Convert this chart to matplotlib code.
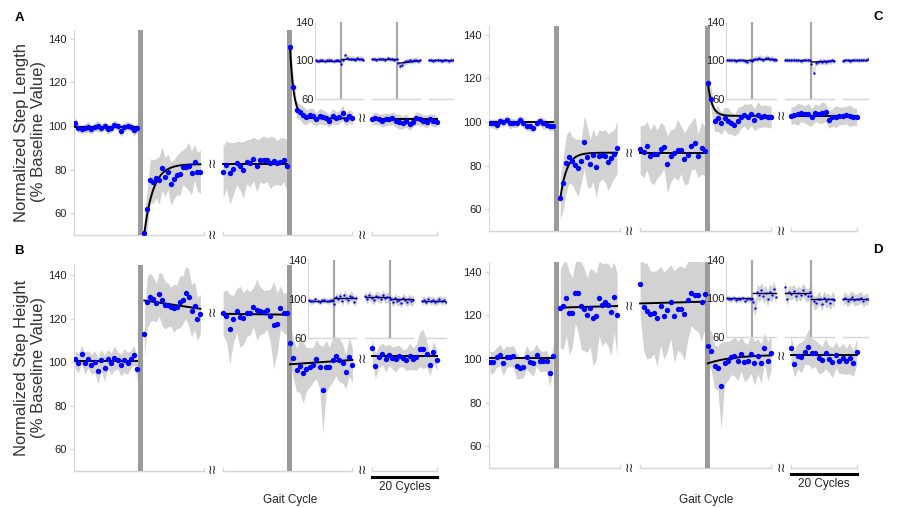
import matplotlib
matplotlib.use('Agg')
import matplotlib.pyplot as plt
import matplotlib.transforms as mtransforms
import numpy as np

plt.rcParams['font.family'] = ['Liberation Sans', 'DejaVu Sans']

W, H = 900, 508

# layout of the five walking blocks along the x axis (in gait cycles)
seg_x = [(0.3, 19.8), (22.0, 39.5), (46.6, 66.6), (67.5, 87.0), (93.1, 113.4)]
bars_x = [(20.0, 21.7), (66.7, 68.1)]
breaks_x = [43.4, 90.1]
axis_runs = [(0, 40.5), (46.6, 87.0), (93.1, 113.4)]

# inset layout
inset_x = [(0.3, 10.4), (10.9, 20.0), (23.5, 33.7), (34.3, 43.5), (47.0, 57.0)]
inset_vlines = [10.6, 34.0]
inset_runs = [(0, 20), (23.5, 43.5), (47, 57)]

# ---------------- A : step length ----------------
a_base = [101.5, 99, 98.5, 99, 99.5, 98.5, 99.5, 100, 99, 100, 98.5, 99, 100.5, 100, 97.5, 99.5, 100, 99.5, 98, 99]
a_adapt_early = [51, 62, 75, 74.5, 76, 75, 80.5, 76.5, 79, 73.5, 75.5, 77.5, 78, 81, 81, 81.5, 78.5, 83.5, 79, 79]
a_adapt_late = [79.0, 82.1, 78.3, 80.3, 82.9, 81.8, 79.8, 83.6, 82.9, 84.9, 81.8, 84.3, 84.6, 84.5, 83.2, 84.0, 83.2, 83.6, 84.5, 81.8]
a_post_early = [136, 118, 107.5, 106.5, 105, 104, 105, 104.5, 103, 104.5, 104, 103.5, 102.5, 104.5, 103.5, 104, 106, 103, 104.5, 103.5]
a_post_late = [103, 103.5, 103, 102.5, 103, 103, 103.5, 102.5, 102, 101.5, 102.5, 101, 102, 103.5, 103, 102.5, 102, 103, 102.5, 102]

a_base_sd = [2.5, 2, 2, 2, 2.5, 2, 2, 2.5, 2, 2, 2.5, 2, 2, 2, 2.5, 2, 2, 2, 2.5, 2]
a_adapt_early_sd = [9, 9, 10, 10, 9, 11, 10, 9, 8, 10, 9, 9, 10, 8, 9, 11, 10, 8, 9, 10]
a_adapt_late_sd = [12, 11, 14, 12, 10, 11, 13, 10, 11, 10, 12, 10, 11, 10, 12, 11, 10, 11, 10, 12]
a_post_early_sd = [4, 4, 4, 3.5, 4, 3.5, 3, 3.5, 3, 3.5, 3.5, 3, 3, 3.5, 3, 3, 3.5, 3, 3, 3]
a_post_late_sd = [2.5, 3, 2.5, 3, 3, 2.5, 3, 3, 3.5, 3, 3, 3, 2.5, 3, 3, 2.5, 3, 2.5, 3, 2.5]

a_fits = [('flat', 99.5), ('exp', 51, 82.5, 2.8), ('flat', 82.5), ('exp', 136, 103.5, 1.2), ('flat', 103)]
a_break_levels = [82.5, 103.5]

# ---------------- B : step height ----------------
b_base = [101.3, 99.4, 103.6, 99.4, 101.3, 98.9, 100.1, 96.0, 100.8, 97.2, 101.3, 99.4, 101.7, 100.8, 98.7, 100.8, 99.4, 101.3, 103.3, 96.8]
b_adapt_early = [112.8, 127.7, 129.7, 129.2, 127.3, 131.1, 128.7, 126.2, 126.2, 125.4, 124.7, 125.4, 127.7, 128.6, 131.9, 129.9, 123.6, 126.0, 119.8, 122.1]
b_adapt_late = [122.4, 121.2, 115.1, 119.6, 123.6, 120.8, 120.1, 122.7, 122.4, 125.2, 124.1, 123.6, 123.1, 124.1, 121.4, 117.0, 117.7, 125.0, 122.4, 122.4]
b_post_early = [108.6, 101.7, 96.4, 98.2, 95.1, 96.7, 97.6, 98.7, 101.4, 97.9, 87.2, 97.9, 97.9, 101.0, 102.8, 101.0, 99.4, 95.6, 102.5, 98.7]
b_post_late = [106.3, 98.2, 102.5, 103.8, 101.5, 103.3, 101.9, 101.5, 102.7, 101.9, 101.0, 102.7, 101.5, 102.3, 105.9, 105.9, 103.8, 98.7, 104.5, 101.0]

b_base_sd = [4, 4.5, 4, 5, 4, 4.5, 5, 6, 5, 6, 4.5, 5, 5.5, 4, 5, 5.5, 5, 4, 4.5, 5]
b_adapt_early_sd = [10, 12, 11, 10, 9, 10, 12, 11, 10, 9, 11, 10, 12, 11, 12, 13, 12, 11, 10, 9]
b_adapt_late_sd = [10, 12, 16, 11, 10, 14, 12, 11, 10, 9, 14, 11, 10, 9, 12, 20, 14, 10, 9, 10]
b_post_early_sd = [9, 9, 10, 12, 14, 10, 9, 8, 9, 10, 20, 12, 9, 10, 9, 10, 9, 8, 9, 8]
b_post_late_sd = [5, 6, 5, 5, 6, 5, 5, 6, 5, 4, 5, 6, 5, 6, 8, 9, 6, 5, 5, 5]

b_fits = [('flat', 100.6), ('lin', 128.3, 124.5), ('lin', 122.2, 121.8), ('lin', 99.0, 101.0), ('flat', 102.9)]
b_break_levels = [122.5, 101]

# ---------------- C : step length ----------------
c_base = [99.3, 99.3, 98.8, 100.4, 99.9, 101.0, 99.3, 99.6, 99.3, 101.0, 99.6, 98.1, 98.1, 97.1, 99.6, 100.4, 99.3, 98.8, 98.0, 98.0]
c_adapt_early = [65.0, 72.2, 81.0, 84.1, 82.2, 80.3, 79.0, 82.2, 90.7, 84.1, 80.7, 84.8, 79.2, 84.5, 84.8, 84.5, 81.5, 83.6, 85.3, 88.2]
c_adapt_late = [87.4, 86.3, 89.1, 84.5, 85.3, 85.3, 87.8, 88.6, 80.7, 84.5, 85.9, 87.1, 87.1, 83.0, 84.8, 89.1, 90.5, 84.5, 88.0, 86.5]
c_post_early = [117.7, 110.5, 100.6, 101.7, 99.4, 101.7, 100.6, 99.4, 98.6, 100.6, 102.2, 103.2, 102.2, 103.5, 101.0, 103.2, 102.5, 102.8, 102.5, 102.2]
c_post_late = [102.8, 103.2, 103.5, 104.2, 103.5, 103.5, 102.2, 104.2, 103.5, 104.2, 104.5, 101.0, 102.2, 102.5, 102.8, 102.8, 103.2, 102.8, 102.5, 102.2]

c_base_sd = [2, 2, 2.5, 2, 2, 2, 2.5, 2, 2, 2, 2.5, 2, 2.5, 2, 2, 2, 2.5, 2, 2, 2]
c_adapt_early_sd = [10, 12, 13, 12, 11, 12, 13, 10, 12, 14, 11, 12, 14, 12, 11, 12, 13, 12, 11, 12]
c_adapt_late_sd = [11, 12, 11, 12, 14, 11, 12, 10, 13, 12, 11, 14, 11, 12, 13, 11, 12, 10, 12, 11]
c_post_early_sd = [5, 5, 5, 6, 5, 5, 6, 5, 5, 6, 5, 5, 6, 5, 5, 6, 5, 5, 5, 5]
c_post_late_sd = [4, 4, 5, 4, 4, 5, 4, 4, 4, 5, 4, 4, 4, 5, 4, 4, 4, 5, 4, 4]

c_fits = [('flat', 99.8), ('exp', 65, 85.9, 2.0), ('flat', 85.9), ('exp', 117.7, 102.8, 1.3), ('flat', 102.9)]
c_break_levels = [85.5, 102.3]

# ---------------- D : step height ----------------
d_base = [98.5, 98.5, 100.8, 101.9, 98.2, 101.1, 101.1, 101.2, 96.8, 96.0, 96.4, 100.8, 98.5, 98.2, 101.9, 99.1, 98.9, 99.1, 93.4, 101.2]
d_adapt_early = [123.3, 124.4, 127.8, 121.0, 121.3, 130.4, 130.1, 124.4, 122.8, 120.2, 123.6, 118.7, 119.5, 127.8, 124.8, 126.0, 124.8, 121.7, 128.5, 120.2]
d_adapt_late = [134.4, 124.0, 122.0, 120.5, 121.2, 118.7, 124.4, 119.8, 122.4, 126.3, 119.5, 123.0, 122.8, 120.5, 127.0, 130.4, 129.5, 129.5, 126.2, 130.0]
d_post_early = [106.0, 103.8, 96.8, 95.7, 87.8, 98.0, 99.1, 100.8, 101.2, 99.1, 102.3, 98.5, 99.0, 102.3, 98.0, 101.2, 98.0, 104.9, 99.0, 102.6]
d_post_late = [104.9, 97.6, 101.2, 100.8, 103.3, 105.6, 102.6, 102.6, 100.3, 99.6, 102.6, 99.9, 98.4, 101.9, 99.3, 100.3, 98.9, 100.3, 98.0, 103.3]

d_base_sd = [5, 5, 4.5, 5, 6, 5, 4.5, 5, 6, 5, 5, 5.5, 5, 6, 5, 5, 4.5, 5, 6, 5]
d_adapt_early_sd = [18, 20, 17, 19, 16, 14, 18, 20, 19, 17, 18, 22, 20, 17, 19, 18, 19, 20, 16, 19]
d_adapt_late_sd = [14, 20, 22, 20, 19, 22, 18, 20, 19, 17, 21, 19, 20, 21, 18, 15, 16, 17, 18, 16]
d_post_early_sd = [8, 9, 10, 10, 20, 10, 9, 8, 9, 9, 8, 9, 8, 9, 10, 8, 9, 7, 9, 8]
d_post_late_sd = [6, 6, 6, 7, 6, 8, 7, 6, 7, 6, 7, 6, 7, 6, 6, 7, 6, 7, 6, 6]

d_fits = [('flat', 100.3), ('lin', 123.6, 124.3), ('lin', 125.5, 126.3), ('exp', 98, 102, 8), ('flat', 101.8)]
d_break_levels = [124, 101]

# ---------------- insets (other leg) ----------------
ia_vals = [[100, 99.5, 100, 100.5, 99.5, 100, 101, 100, 99.5, 100, 100.5, 99.5],
           [96, 101, 105.5, 103, 102, 101.5, 102, 101, 102.5, 101.5, 102, 101],
           [101.5, 102, 101, 101.5, 102, 101.5, 101, 102.5, 101.5, 102, 101, 101.5],
           [97, 94, 95.5, 98, 99, 99.5, 100, 99.5, 100, 100.5, 99.5, 100],
           [100, 100.5, 99.5, 100, 101, 100, 99.5, 100.5, 100, 99, 100.5, 100]]
ia_sd = [2.5, 3, 2.5, 3, 2.5]
ia_fits = [('flat', 99.8), ('flat', 101.5), ('flat', 101.5), ('lin', 97.1, 99.8), ('flat', 100)]

ib_vals = [[99, 97.5, 98, 99.5, 98, 97, 98.5, 99, 98, 97.5, 99, 98.5],
           [95, 102, 100, 103, 98, 104, 101, 99, 103, 102, 97, 101],
           [103, 100, 104, 101, 99, 103, 102, 100, 104, 101, 102, 100],
           [100, 97, 101, 98, 99, 96, 101, 99, 97, 100, 98, 99],
           [98, 99, 97, 100, 98, 99, 97, 98, 100, 98, 99, 97]]
ib_sd = [3, 5, 5, 5, 4]
ib_fits = [('flat', 98.3), ('flat', 100.7), ('flat', 101.7), ('flat', 99.7), ('flat', 98.0)]

ic_vals = [[100.5, 101, 100, 100.5, 99.5, 100, 101, 100, 99.5, 98.5, 100, 99],
           [101, 102, 101.5, 103, 102, 101, 102.5, 103, 101.5, 102, 101, 100.5],
           [100.5, 101, 100, 100.5, 101, 100, 100.5, 99.5, 100, 101, 100.5, 100],
           [96, 87, 97, 98, 99, 98.5, 99, 98, 99.5, 99, 100, 99.5],
           [99.5, 100, 100.5, 99.5, 100, 101, 100.5, 100, 101, 100.5, 101, 101.5]]
ic_sd = [2.5, 3, 2.5, 3, 2.5]
ic_fits = [('flat', 100.5), ('flat', 101.2), ('flat', 100.2), ('lin', 98.4, 99.5), ('flat', 100.5)]

id_vals = [[101, 100, 99, 101, 98, 100, 99, 101, 97, 100, 99, 100],
           [96, 90, 107, 104, 109, 103, 106, 100, 107, 104, 110, 102],
           [112, 100, 107, 105, 108, 103, 106, 104, 109, 105, 103, 107],
           [103, 97, 95, 99, 100, 94, 101, 97, 99, 95, 100, 98],
           [99, 101, 97, 100, 102, 98, 99, 100, 101, 97, 100, 99]]
id_sd = [3, 8, 7, 7, 6]
id_fits = [('flat', 100.2), ('flat', 105.4), ('flat', 106.0), ('flat', 99.2), ('flat', 99.2)]

BLUE = '#0000ff'
BAND = '#d2d2d2'
BAR = '#9b9b9b'
AXC = '#d6d6d6'
TXT = '#222222'


def px_axes(fig, left, top, width, height):
    return fig.add_axes([left / W, 1 - (top + height) / H, width / W, height / H])


def fit_curve(spec, x):
    if spec[0] == 'flat':
        return np.full_like(x, spec[1])
    if spec[0] == 'lin':
        return np.linspace(spec[1], spec[2], len(x))
    y0, plateau, tau = spec[1], spec[2], spec[3]
    return plateau + (y0 - plateau) * np.exp(-(x - x[0]) / tau)


def draw_main(ax, means, sds, fits, levels, ylim, scale_bar=False):
    ax.set_xlim(0, 117.5)
    ax.set_ylim(*ylim)
    ax.patch.set_alpha(0)
    for x0, x1 in bars_x:
        ax.axvspan(x0, x1, color=BAR, lw=0, zorder=2)
    for vals, sd, fit, (x0, x1) in zip(means, sds, fits, seg_x):
        v = np.array(vals)
        s = np.array(sd)
        x = np.linspace(x0, x1, len(v))
        ax.fill_between(x, v - s, v + s, color=BAND, lw=0, zorder=1)
        xf = np.linspace(x0, x1, 120)
        ax.plot(xf, fit_curve(fit, xf), color='black', lw=1.4, zorder=3)
        ax.scatter(x, v, s=15, color=BLUE, lw=0, zorder=4)
    for sp in ['top', 'right', 'bottom']:
        ax.spines[sp].set_visible(False)
    ax.spines['left'].set_color(AXC)
    ax.set_xticks([])
    ax.set_yticks([60, 80, 100, 120, 140])
    ax.tick_params(axis='y', length=3, width=0.8, color=AXC, labelsize=8, labelcolor=TXT, pad=2)
    y0 = ylim[0]
    tick_h = (ylim[1] - ylim[0]) * 0.014
    for i, (r0, r1) in enumerate(axis_runs):
        ax.plot([r0, r1], [y0, y0], color=AXC, lw=1, clip_on=False, zorder=1)
        ends = [r1] if i == 0 else [r0, r1]
        for e in ends:
            ax.plot([e, e], [y0, y0 + tick_h], color=AXC, lw=1, clip_on=False, zorder=1)
    for bx, lv in zip(breaks_x, levels):
        for yy in (lv, y0):
            ax.text(bx, yy, '\u2240\u2240', ha='center', va='center',
                    fontsize=9, color=TXT, family='DejaVu Sans')
    if scale_bar:
        tr = mtransforms.blended_transform_factory(ax.transData, ax.transAxes)
        sx0, sx1 = seg_x[4]
        ax.plot([sx0, sx1], [-0.03, -0.03], color='black', lw=2.2, transform=tr, clip_on=False)
        ax.text((sx0 + sx1) / 2, -0.078, '20 Cycles', transform=tr, ha='center', va='center',
                fontsize=8.5, color=TXT)


def draw_inset(ax, vals_list, sd_list, fits):
    ax.set_xlim(0, 57)
    ax.set_ylim(60, 140)
    ax.patch.set_alpha(0)
    for vx in inset_vlines:
        ax.axvline(vx, color='#a8a8a8', lw=1.6, zorder=2)
    for vals, sd, fit, (x0, x1) in zip(vals_list, sd_list, fits, inset_x):
        v = np.array(vals)
        x = np.linspace(x0, x1, len(v))
        ax.fill_between(x, v - sd, v + sd, color=BAND, lw=0, zorder=1)
        xf = np.linspace(x0, x1, 50)
        ax.plot(xf, fit_curve(fit, xf), color='black', lw=1.0, zorder=3)
        ax.plot(x, v, 'o', ms=1.7, mew=0, color=BLUE, zorder=4)
    for sp in ['top', 'right', 'bottom']:
        ax.spines[sp].set_visible(False)
    ax.spines['left'].set_color(AXC)
    for r0, r1 in inset_runs:
        ax.plot([r0, r1], [60, 60], color=AXC, lw=1, clip_on=False)
    ax.set_xticks([])
    ax.set_yticks([60, 100, 140])
    ax.tick_params(axis='y', length=0, labelsize=8, labelcolor=TXT, pad=1)


fig = plt.figure(figsize=(W / 100, H / 100), dpi=100)

ax_a = px_axes(fig, 74, 30, 376, 205)
draw_main(ax_a, [a_base, a_adapt_early, a_adapt_late, a_post_early, a_post_late],
          [a_base_sd, a_adapt_early_sd, a_adapt_late_sd, a_post_early_sd, a_post_late_sd],
          a_fits, a_break_levels, (50, 144))

ax_b = px_axes(fig, 74, 265, 376, 206)
draw_main(ax_b, [b_base, b_adapt_early, b_adapt_late, b_post_early, b_post_late],
          [b_base_sd, b_adapt_early_sd, b_adapt_late_sd, b_post_early_sd, b_post_late_sd],
          b_fits, b_break_levels, (50, 144.6), scale_bar=True)

ax_c = px_axes(fig, 489, 26, 381, 205)
draw_main(ax_c, [c_base, c_adapt_early, c_adapt_late, c_post_early, c_post_late],
          [c_base_sd, c_adapt_early_sd, c_adapt_late_sd, c_post_early_sd, c_post_late_sd],
          c_fits, c_break_levels, (50, 144))

ax_d = px_axes(fig, 489, 262, 381, 206)
draw_main(ax_d, [d_base, d_adapt_early, d_adapt_late, d_post_early, d_post_late],
          [d_base_sd, d_adapt_early_sd, d_adapt_late_sd, d_post_early_sd, d_post_late_sd],
          d_fits, d_break_levels, (50, 144.5), scale_bar=True)

draw_inset(px_axes(fig, 315, 22, 138, 77), ia_vals, ia_sd, ia_fits)
draw_inset(px_axes(fig, 308, 260, 138, 78), ib_vals, ib_sd, ib_fits)
draw_inset(px_axes(fig, 726, 22, 142, 77), ic_vals, ic_sd, ic_fits)
draw_inset(px_axes(fig, 726, 260, 142, 77), id_vals, id_sd, id_fits)

fig.text(30 / W, 1 - 132 / H, 'Normalized Step Length\n(% Baseline Value)', rotation=90,
         ha='center', va='center', fontsize=12, color='#333333', multialignment='center')
fig.text(30 / W, 1 - 368 / H, 'Normalized Step Height\n(% Baseline Value)', rotation=90,
         ha='center', va='center', fontsize=12, color='#333333', multialignment='center')

for letter, (lx, ly) in zip('ABCD', [(19, 18), (19, 251), (878, 17), (878, 250)]):
    fig.text(lx / W, 1 - ly / H, letter, ha='center', va='center', fontsize=9.5,
             fontweight='bold', color='black')

fig.text(290 / W, 1 - 500 / H, 'Gait Cycle', ha='center', va='center', fontsize=8.5, color=TXT)
fig.text(706 / W, 1 - 500 / H, 'Gait Cycle', ha='center', va='center', fontsize=8.5, color=TXT)

fig.savefig('out.png', dpi=100)
